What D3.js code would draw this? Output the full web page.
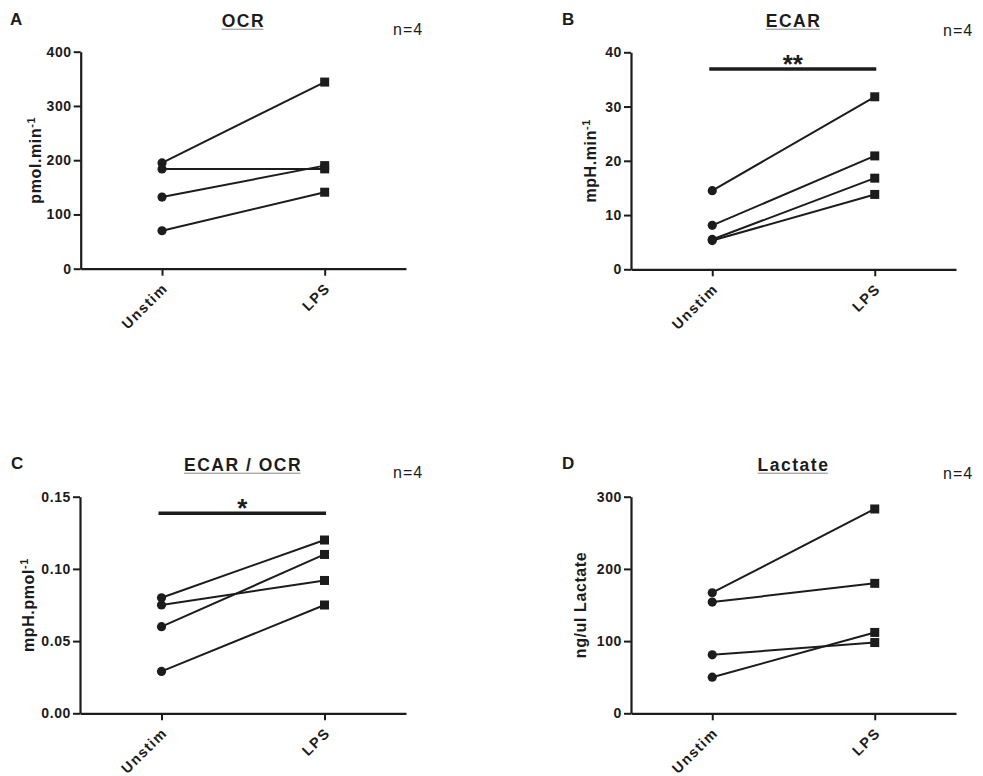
<!DOCTYPE html>
<html>
<head>
<meta charset="utf-8">
<script src="https://cdn.jsdelivr.net/npm/d3@7"></script>
<style>
  html, body { margin: 0; padding: 0; background: #fff; }
  svg { display: block; font-family: "Liberation Sans", Arial, sans-serif; }
</style>
</head>
<body>
<svg id="fig" width="983" height="776"></svg>
<script>
// Conditions on the x axis
const categories = ["Unstim", "LPS"];

// Paired donor values (n = 4), Unstim -> LPS
const ocrUnstim = [195, 184, 132, 70];
const ocrLps = [344, 184, 190, 141];

const ecarUnstim = [14.5, 8.1, 5.5, 5.3];
const ecarLps = [31.8, 20.9, 16.8, 13.8];

const ratioUnstim = [0.080, 0.060, 0.075, 0.029];
const ratioLps = [0.120, 0.110, 0.092, 0.075];

const lactateUnstim = [167, 154, 81, 50];
const lactateLps = [283, 180, 98, 112];

// Y tick values per panel
const ocrTicks = [0, 100, 200, 300, 400];
const ecarTicks = [0, 10, 20, 30, 40];
const ratioTicks = [0, 0.05, 0.10, 0.15];
const lactateTicks = [0, 100, 200, 300];

// Significance brackets: [height, stars]
const ecarSig = [36.9, "**"];
const ratioSig = [0.1385, "*"];

const ink = "#1c1c1c";
const svg = d3.select("#fig");

const panels = [
  { letter: "A", title: "OCR", label: "pmol.min", sup: "-1",
    unstim: ocrUnstim, lps: ocrLps, ticks: ocrTicks, fmt: d3.format("d"), max: 400,
    x0: 80.7, x1: 406, yTop: 51.7, yBot: 268.7, labelOff: 40, sig: null,
    letterX: 10, letterY: 25, titleY: 26.7, nX: 393, nY: 35 },
  { letter: "B", title: "ECAR", label: "mpH.min", sup: "-1",
    unstim: ecarUnstim, lps: ecarLps, ticks: ecarTicks, fmt: d3.format("d"), max: 40,
    x0: 631, x1: 956, yTop: 52.3, yBot: 269.3, labelOff: 35, sig: ecarSig,
    letterX: 562, letterY: 25, titleY: 26.7, nX: 943, nY: 35.5 },
  { letter: "C", title: "ECAR / OCR", label: "mpH.pmol", sup: "-1",
    unstim: ratioUnstim, lps: ratioLps, ticks: ratioTicks, fmt: d3.format(".2f"), max: 0.15,
    x0: 80, x1: 406, yTop: 496.7, yBot: 713.3, labelOff: 46, sig: ratioSig,
    letterX: 11, letterY: 468.5, titleY: 470.7, nX: 393, nY: 478 },
  { letter: "D", title: "Lactate", label: "ng/ul Lactate", sup: null,
    unstim: lactateUnstim, lps: lactateLps, ticks: lactateTicks, fmt: d3.format("d"), max: 300,
    x0: 631, x1: 956, yTop: 496.7, yBot: 713.3, labelOff: 45, sig: null,
    letterX: 562, letterY: 468.5, titleY: 470.7, nX: 943, nY: 479 }
];

panels.forEach(p => {
  const g = svg.append("g");
  const x = d3.scalePoint().domain(categories).range([p.x0, p.x1]).padding(0.5);
  const y = d3.scaleLinear().domain([0, p.max]).range([p.yBot, p.yTop]);

  // Y axis
  const ya = g.append("g").attr("transform", `translate(${p.x0},0)`)
    .call(d3.axisLeft(y).tickValues(p.ticks).tickFormat(p.fmt).tickSize(7).tickSizeOuter(0).tickPadding(2));
  // X axis
  const xa = g.append("g").attr("transform", `translate(0,${p.yBot})`)
    .call(d3.axisBottom(x).tickSize(7).tickSizeOuter(0));

  [ya, xa].forEach(a => {
    a.select(".domain").attr("stroke", ink).attr("stroke-width", 2.2);
    a.selectAll(".tick line").attr("stroke", ink).attr("stroke-width", 2);
  });
  ya.selectAll(".tick text")
    .attr("fill", ink).style("font-size", "14px").style("font-weight", "bold")
    .style("letter-spacing", "0.6px");

  // Rotated category labels
  xa.selectAll(".tick text").remove();
  xa.selectAll(".tick").append("text")
    .attr("transform", "translate(6,20.5) rotate(-45)")
    .attr("text-anchor", "end")
    .attr("fill", ink)
    .style("font-size", "14.5px").style("font-weight", "bold").style("letter-spacing", "1.4px")
    .text(d => d);

  // Y axis title
  const yl = g.append("text")
    .attr("transform", `translate(${p.x0 - p.labelOff},${(p.yTop + p.yBot) / 2}) rotate(-90)`)
    .attr("text-anchor", "middle")
    .attr("fill", ink)
    .style("font-size", "16px").style("font-weight", "bold").style("letter-spacing", "0.6px");
  yl.append("tspan").text(p.label);
  if (p.sup) {
    yl.append("tspan").attr("dy", "-0.55em").style("font-size", "11px").text(p.sup);
  }

  // Paired lines
  const pairs = p.unstim.map((u, i) => [u, p.lps[i]]);
  g.selectAll(".pair").data(pairs).join("line")
    .attr("x1", x(categories[0])).attr("x2", x(categories[1]))
    .attr("y1", d => y(d[0])).attr("y2", d => y(d[1]))
    .attr("stroke", ink).attr("stroke-width", 2);

  // Unstim markers: circles
  g.selectAll(".circ").data(p.unstim).join("circle")
    .attr("cx", x(categories[0])).attr("cy", d => y(d)).attr("r", 4.6)
    .attr("fill", ink);
  // LPS markers: squares
  const s = 9;
  g.selectAll(".sq").data(p.lps).join("rect")
    .attr("x", x(categories[1]) - s / 2).attr("y", d => y(d) - s / 2)
    .attr("width", s).attr("height", s)
    .attr("fill", ink);

  // Significance bar
  if (p.sig) {
    const by = y(p.sig[0]);
    const bx0 = x(categories[0]) - 3, bx1 = x(categories[1]) + 1.5;
    g.append("line").attr("x1", bx0).attr("x2", bx1).attr("y1", by).attr("y2", by)
      .attr("stroke", ink).attr("stroke-width", 3.5);
    g.append("text").attr("x", (bx0 + bx1) / 2).attr("y", by + 4)
      .attr("text-anchor", "middle").attr("fill", ink)
      .style("font-size", "26px").style("font-weight", "bold").style("letter-spacing", "0px")
      .text(p.sig[1]);
  }

  // Panel title with underline
  const cx = (p.x0 + p.x1) / 2;
  const t = g.append("text").attr("x", cx).attr("y", p.titleY)
    .attr("text-anchor", "middle").attr("fill", ink)
    .style("font-size", "17.5px").style("font-weight", "bold").style("letter-spacing", "1.5px")
    .text(p.title);
  const bb = t.node().getBBox();
  g.append("line").attr("x1", bb.x).attr("x2", bb.x + bb.width - 1.5)
    .attr("y1", p.titleY + 2.5).attr("y2", p.titleY + 2.5)
    .attr("stroke", "#8a8a8a").attr("stroke-width", 1);

  // Panel letter
  g.append("text").attr("x", p.letterX).attr("y", p.letterY)
    .attr("fill", ink).style("font-size", "17px").style("font-weight", "bold")
    .text(p.letter);

  // Sample size
  g.append("text").attr("x", p.nX).attr("y", p.nY)
    .attr("fill", ink).style("font-size", "16px").style("letter-spacing", "1px")
    .text("n=4");
});
</script>
</body>
</html>
